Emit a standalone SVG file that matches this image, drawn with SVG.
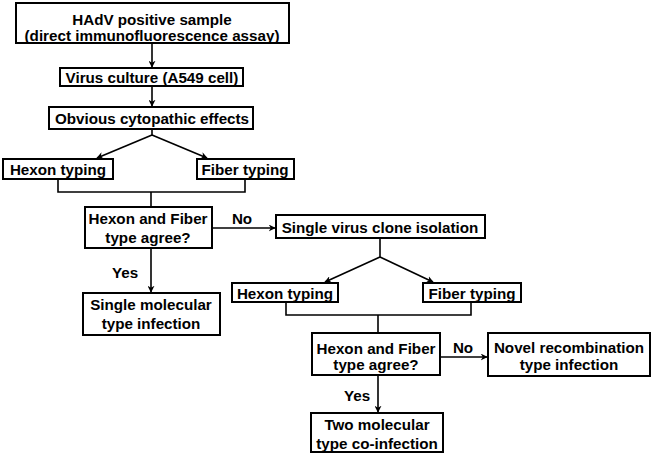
<svg xmlns="http://www.w3.org/2000/svg" width="655" height="463" viewBox="0 0 655 463">
<style>
.box{fill:#fff;stroke:#000;stroke-width:2}
.t{font-family:"Liberation Sans",Arial,sans-serif;font-weight:bold;font-size:15.2px;fill:#000;text-anchor:middle;dominant-baseline:central}
.c{fill:none;stroke:#000;stroke-width:1.6}
.a{marker-end:url(#ah)}
</style>
<defs>
<marker id="ah" viewBox="0 0 10 10" refX="9" refY="5" markerWidth="7" markerHeight="7" markerUnits="userSpaceOnUse" orient="auto">
<path d="M0,0 L10,5 L0,10 L3,5 Z" fill="#000"/>
</marker>
</defs>
<rect width="655" height="463" fill="#fff"/>
<g id="connectors">
<line class="c a" x1="152" y1="43" x2="152" y2="67"/>
<line class="c a" x1="152" y1="86" x2="152" y2="106"/>
<polyline class="c" points="152,129 152,135"/>
<line class="c a" x1="152" y1="135" x2="97" y2="158"/>
<line class="c a" x1="152" y1="135" x2="207" y2="158"/>
<polyline class="c" points="58,179 58,192 245,192 245,179"/>
<line class="c" x1="151" y1="192" x2="151" y2="207"/>
<line class="c a" x1="212" y1="228" x2="275" y2="228"/>
<line class="c a" x1="151" y1="248" x2="151" y2="292"/>
<line class="c" x1="380" y1="238" x2="380" y2="257"/>
<line class="c a" x1="380" y1="257" x2="325" y2="282"/>
<line class="c a" x1="380" y1="257" x2="433" y2="282"/>
<polyline class="c" points="286,302 286,315 471,315 471,302"/>
<line class="c" x1="378" y1="315" x2="378" y2="333"/>
<line class="c a" x1="440" y1="357" x2="487" y2="357"/>
<line class="c a" x1="378" y1="375" x2="378" y2="412"/>
<text class="t" x="242" y="218">No</text>
<text class="t" x="125" y="272">Yes</text>
<text class="t" x="463" y="347">No</text>
<text class="t" x="357" y="395">Yes</text>
</g>
<g id="n1"><rect class="box" x="16" y="3" width="273" height="40"/><text class="t" x="152" y="19">HAdV positive sample</text><text class="t" x="152" y="35">(direct immunofluorescence assay)</text></g>
<g id="n2"><rect class="box" x="60" y="68" width="183" height="18"/><text class="t" x="152" y="77">Virus culture (A549 cell)</text></g>
<g id="n3"><rect class="box" x="49" y="107" width="204" height="22"/><text class="t" x="152" y="118">Obvious cytopathic effects</text></g>
<g id="n4"><rect class="box" x="3" y="159" width="110" height="20"/><text class="t" x="58" y="169">Hexon typing</text></g>
<g id="n5"><rect class="box" x="197" y="159" width="97" height="20"/><text class="t" x="245" y="169">Fiber typing</text></g>
<g id="n6"><rect class="box" x="85" y="207" width="127" height="41"/><text class="t" x="148" y="218">Hexon and Fiber</text><text class="t" x="148" y="237">type agree?</text></g>
<g id="n7"><rect class="box" x="83" y="293" width="137" height="42"/><text class="t" x="151" y="304">Single molecular</text><text class="t" x="151" y="323">type infection</text></g>
<g id="n8"><rect class="box" x="276" y="215" width="209" height="23"/><text class="t" x="380" y="227">Single virus clone isolation</text></g>
<g id="n9"><rect class="box" x="232" y="283" width="106" height="19"/><text class="t" x="285" y="293">Hexon typing</text></g>
<g id="n10"><rect class="box" x="423" y="283" width="98" height="19"/><text class="t" x="472" y="293">Fiber typing</text></g>
<g id="n11"><rect class="box" x="312" y="333" width="128" height="42"/><text class="t" x="376" y="348">Hexon and Fiber</text><text class="t" x="376" y="364">type agree?</text></g>
<g id="n12"><rect class="box" x="488" y="333" width="162" height="43"/><text class="t" x="569" y="347">Novel recombination</text><text class="t" x="569" y="364">type infection</text></g>
<g id="n13"><rect class="box" x="311" y="413" width="132" height="39"/><text class="t" x="377" y="424">Two molecular</text><text class="t" x="377" y="443">type co-infection</text></g>
</svg>
